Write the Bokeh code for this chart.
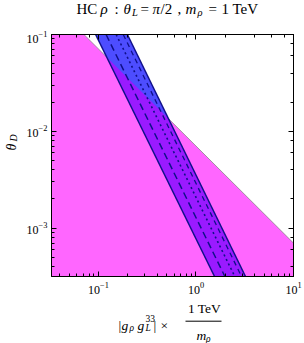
import numpy as np
from bokeh.plotting import figure
from bokeh.layouts import column, row
from bokeh.models import Range1d, LogAxis, LogTicker, CustomJSTickFormatter
from bokeh.core.properties import value
from bokeh.embed import file_html
from bokeh.resources import INLINE

# ---- data ----
x_lim = [0.033, 10.0]
y_lim = [10 ** -3.5, 0.1]

# boundary of the magenta excluded region (theta_D ~ 1/x)
bound_x = [0.071, 10.0]
bound_y = [0.1, 7.0e-4]

# band lines: x at theta = band_theta[0] and band_theta[1]
band_theta = [0.1, 10 ** -3.5]
left_x = [0.0935, 1.55]
dash1_x = [0.1197, 1.98]
dot_x = [0.152, 2.50]
dash2_x = [0.1795, 2.93]
right_x = [0.198, 3.22]

MAGENTA = "#FF66FF"
BLUE = "#4D4DFF"
PURPLE = "#9A1AFF"
NAVY = "#10108A"
SERIF = "Liberation Serif"

W = 304
H_TITLE = 30
H_MAIN = 269
H_XLAB = 44
W_YLAB = 20


def cross(lx, ly, bx, by):
    X1, Y1 = np.log10(lx), np.log10(ly)
    X2, Y2 = np.log10(bx), np.log10(by)
    m1 = (Y1[1] - Y1[0]) / (X1[1] - X1[0])
    m2 = (Y2[1] - Y2[0]) / (X2[1] - X2[0])
    X = (Y2[0] - Y1[0] + m1 * X1[0] - m2 * X2[0]) / (m1 - m2)
    Y = Y1[0] + m1 * (X - X1[0])
    return 10 ** X, 10 ** Y


p = figure(width=W - W_YLAB, height=H_MAIN, x_axis_type="log", y_axis_type="log",
           x_range=Range1d(*x_lim), y_range=Range1d(*y_lim),
           output_backend="svg", toolbar_location=None,
           min_border_left=31, min_border_right=11, min_border_top=4,
           min_border_bottom=23)
p.grid.visible = False
p.outline_line_color = "black"
p.outline_line_width = 1
p.background_fill_color = "white"
p.border_fill_color = "white"

# magenta region
mx = [x_lim[0], bound_x[0], bound_x[1], x_lim[1], x_lim[0]]
my = [bound_y[0], bound_y[0], bound_y[1], y_lim[0], y_lim[0]]
p.patch(mx, my, fill_color=MAGENTA, line_color=None)
p.line(bound_x, bound_y, line_color="#8A8A8A", line_width=0.8)

# blue band
bx = [left_x[0], right_x[0], right_x[1], left_x[1]]
by = [band_theta[0], band_theta[0], band_theta[1], band_theta[1]]
p.patch(bx, by, fill_color=BLUE, line_color=None)

# overlap (band inside magenta region)
cl = cross(left_x, band_theta, bound_x, bound_y)
cr = cross(right_x, band_theta, bound_x, bound_y)
ox = [cl[0], cr[0], right_x[1], left_x[1]]
oy = [cl[1], cr[1], band_theta[1], band_theta[1]]
p.patch(ox, oy, fill_color=PURPLE, line_color=None)

p.line(left_x, band_theta, line_color=NAVY, line_width=1.5)
p.line(right_x, band_theta, line_color=NAVY, line_width=1.5)
p.line(dash1_x, band_theta, line_color=NAVY, line_width=1.5, line_dash="7 4")
p.line(dot_x, band_theta, line_color=NAVY, line_width=1.6, line_dash="2 3")
p.line(dash2_x, band_theta, line_color=NAVY, line_width=1.3, line_dash="5 4")


def style_axis(ax, labels=True):
    ax.axis_line_color = "black"
    ax.major_tick_in = 5
    ax.major_tick_out = 0
    ax.minor_tick_in = 3
    ax.minor_tick_out = 0
    ax.major_tick_line_color = "black"
    ax.minor_tick_line_color = "black"
    ax.major_label_text_font = SERIF
    ax.major_label_text_color = "black"
    if labels:
        ax.major_label_text_font_size = "12px"
        ax.major_label_standoff = 4
    else:
        ax.major_label_text_font_size = "0px"
        ax.major_label_standoff = 0


for ax in p.yaxis:
    style_axis(ax)
for ax in p.xaxis:
    style_axis(ax)
    ax.major_label_standoff = 5

blank = CustomJSTickFormatter(code="return ''")
top_ax = LogAxis(ticker=LogTicker(), formatter=blank)
right_ax = LogAxis(ticker=LogTicker(), formatter=blank)
for ax in (top_ax, right_ax):
    style_axis(ax, labels=False)
p.add_layout(top_ax, "above")
p.add_layout(right_ax, "right")


def text_fig(w, h):
    f = figure(width=w, height=h, x_range=Range1d(0, w), y_range=Range1d(0, h),
               output_backend="svg", toolbar_location=None, min_border=0,
               x_axis_location=None, y_axis_location=None)
    f.grid.visible = False
    f.outline_line_color = None
    f.background_fill_color = "white"
    f.border_fill_color = "white"
    return f


def put(f, segs, italic, size, align="left", angle=0.0):
    f.text(x=[s[0] for s in segs], y=[s[1] for s in segs], text=[s[2] for s in segs],
           text_font=value(SERIF), text_font_size=value(f"{size}px"),
           text_font_style="italic" if italic else "normal",
           text_align=align, text_baseline="alphabetic", text_color="black",
           angle=angle)


# ---- title ----
tf = text_fig(W, H_TITLE)
tb = 21.5
put(tf, [(76, tb, "HC"), (114, tb, ":"), (140, tb, "="), (160, tb, "/2"),
         (177, tb, ","), (208, tb, "="), (221, tb, "1"), (232, tb, "TeV")], False, 15)
put(tf, [(100, tb, "ρ"), (123, tb, "θ"), (152, tb, "π"), (185, tb, "m")], True, 15)
put(tf, [(131.5, tb - 3.5, "L"), (197, tb - 3.5, "ρ")], True, 10.5)

# ---- y label ----
yf = text_fig(W_YLAB, H_MAIN)
put(yf, [(11, 140, "θ")], True, 14, angle=np.pi / 2)
put(yf, [(12.5, 150, "D")], True, 10, angle=np.pi / 2)

# ---- x label ----
xf = text_fig(W, H_XLAB)
rb = 18
put(xf, [(118, rb, "|"), (153, rb, "|"), (160, rb, "×")], False, 13.5)
put(xf, [(121, rb, "g"), (137, rb, "g")], True, 13.5)
put(xf, [(129, rb - 2.5, "ρ"), (145, rb - 2.5, "L")], True, 9.5)
put(xf, [(145, rb + 7, "33")], False, 9.5)
put(xf, [(204, 35, "1 TeV")], False, 13.5, align="center")
put(xf, [(196, 8, "m")], True, 13.5)
put(xf, [(205.5, 5, "ρ")], True, 9.5)
xf.segment(x0=[185], y0=[22.3], x1=[221], y1=[22.3], line_color="black", line_width=1)

layout = column(tf, row(yf, p), xf)
open("out.html", "w").write(file_html(layout, INLINE))
